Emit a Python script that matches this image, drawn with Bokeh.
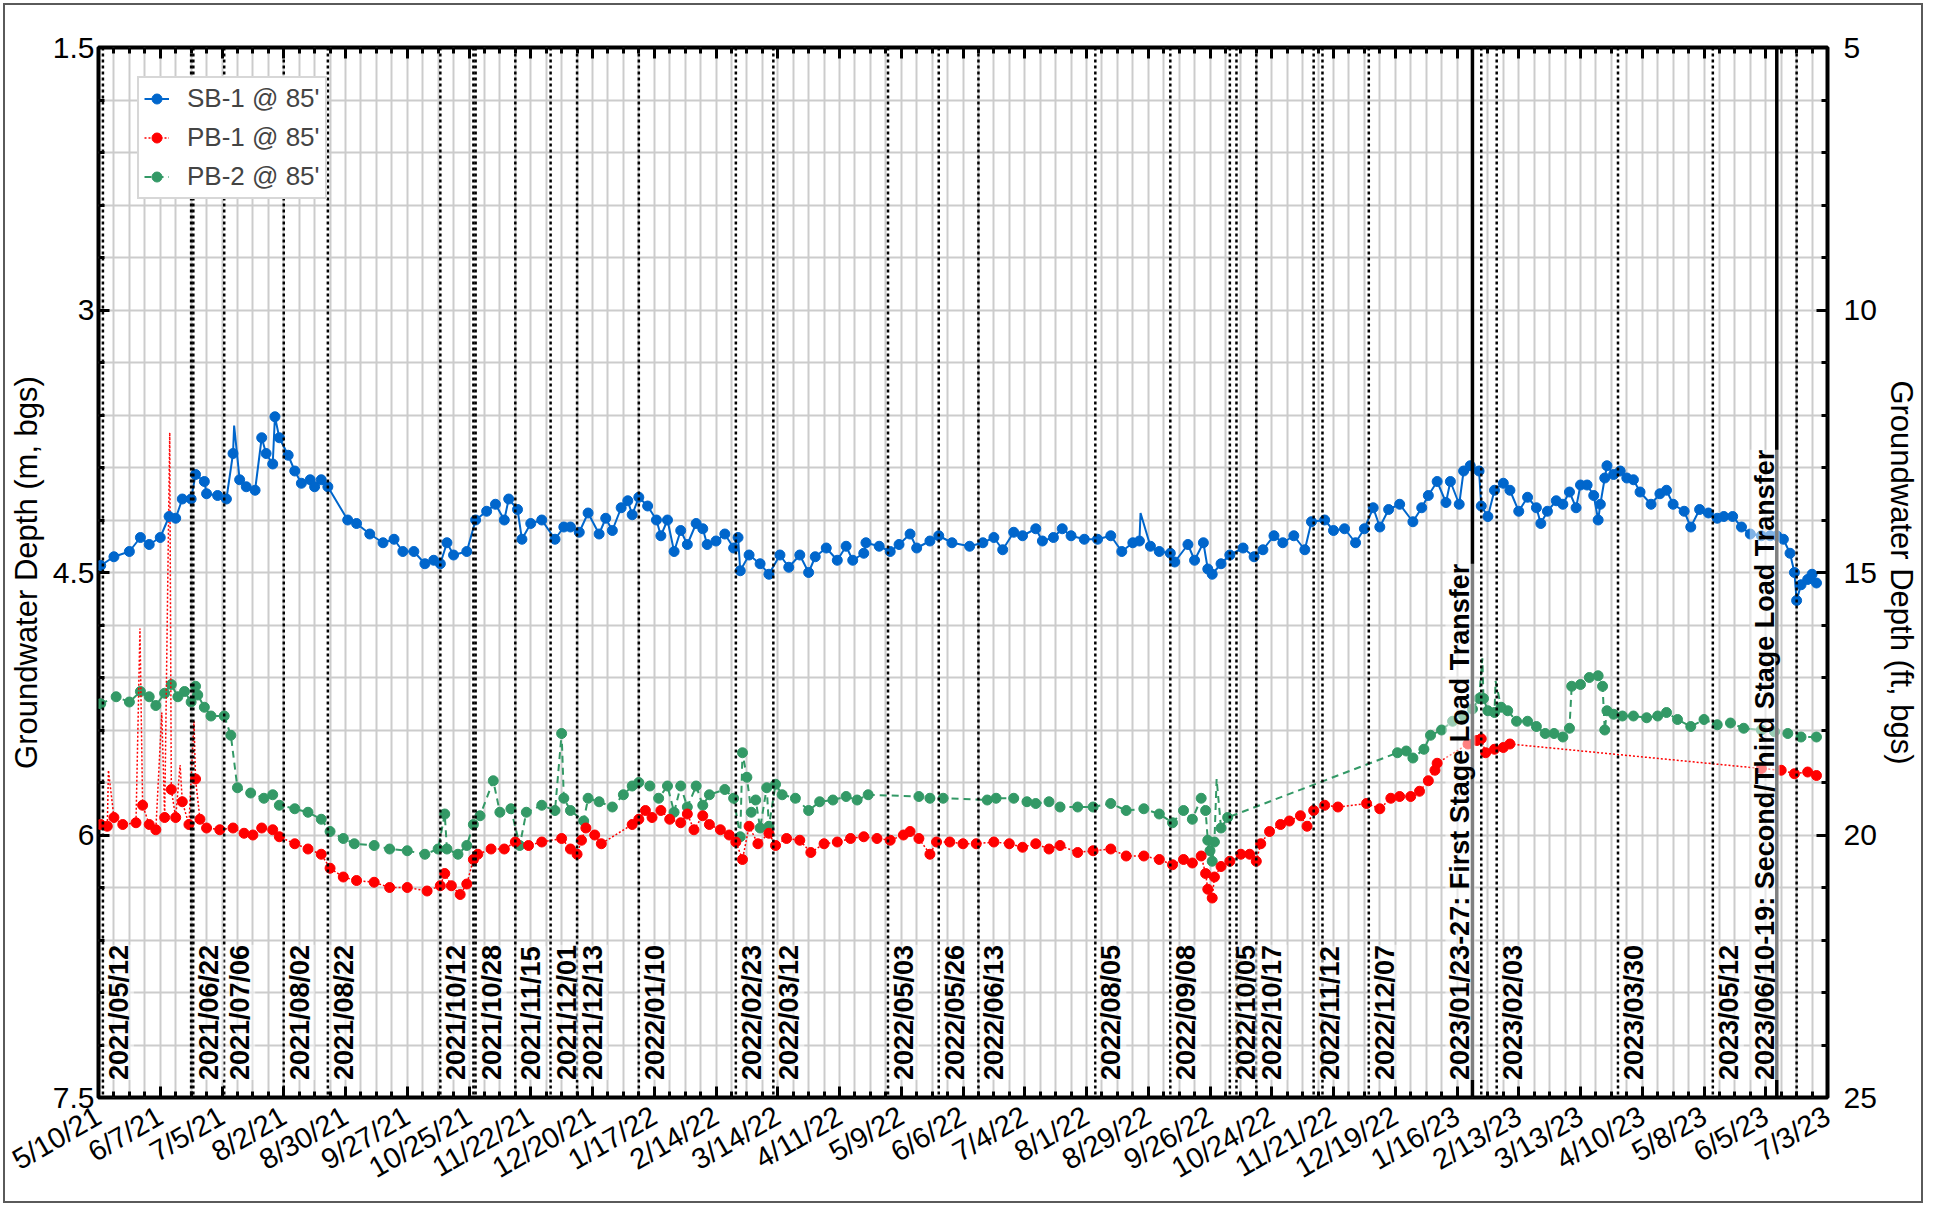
import numpy as np
import pandas as pd
from bokeh.plotting import figure
from bokeh.models import (Range1d, DatetimeAxis, LinearAxis, FixedTicker, Span, Label,
                          Legend, LegendItem, InlineStyleSheet, DatetimeTickFormatter)
from bokeh.embed import file_html
from bokeh.resources import INLINE

# ---------------- data ----------------
START = "2021-05-10"
END = "2023-07-03"

TICK_LABELS = ["5/10/21", "6/7/21", "7/5/21", "8/2/21", "8/30/21", "9/27/21", "10/25/21",
               "11/22/21", "12/20/21", "1/17/22", "2/14/22", "3/14/22", "4/11/22", "5/9/22",
               "6/6/22", "7/4/22", "8/1/22", "8/29/22", "9/26/22", "10/24/22", "11/21/22",
               "12/19/22", "1/16/23", "2/13/23", "3/13/23", "4/10/23", "5/8/23", "6/5/23", "7/3/23"]

Y_M_TICKS = [1.5, 3, 4.5, 6, 7.5]
Y_FT_TICKS = [5, 10, 15, 20, 25]

EVENT_LABELS = ["2021/05/12", "2021/06/22", "2021/07/06", "2021/08/02", "2021/08/22",
                "2021/10/12", "2021/10/28", "2021/11/15", "2021/12/01", "2021/12/13",
                "2022/01/10", "2022/02/23", "2022/03/12", "2022/05/03", "2022/05/26",
                "2022/06/13", "2022/08/05", "2022/09/08", "2022/10/05", "2022/10/17",
                "2022/11/12", "2022/12/07", "2023/02/03", "2023/03/30", "2023/05/12"]
EXTRA_EVENTS = ["2021/06/21", "2021/10/27", "2022/10/08", "2022/11/16", "2023/01/27", "2023/06/19"]
STAGE_DATES = ["2023/01/23", "2023/06/10"]
STAGE_LABELS = ["2023/01/23-27: First Stage Load Transfer",
                "2023/06/10-19: Second/Third Stage Load Transfer"]

# days after 2021-05-10, depth in m
SB1_DAY = [1, 7, 14, 19, 23, 28, 32, 35, 38, 42, 44, 48, 49, 54, 58, 61, 64, 67, 71, 74, 76, 79, 80,
           82, 86, 89, 92, 96, 98, 101, 104, 113, 117, 123, 129, 134, 138, 143, 148, 152, 155, 158,
           161, 167, 171, 176, 180, 184, 186, 190, 192, 196, 201, 207, 211, 214, 218, 222, 227, 230,
           233, 237, 240, 242, 245, 249, 253, 255, 258, 261, 264, 267, 271, 274, 276, 280, 284, 288,
           290, 291, 295, 300, 304, 309, 313, 318, 322, 325, 330, 335, 339, 342, 347, 348, 354, 359,
           363, 368, 371, 377, 381, 387, 395, 401, 406, 410, 415, 419, 425, 428, 433, 437, 441, 447,
           453, 459, 464, 469, 472, 477, 481, 486, 488, 494, 497, 501, 503, 505, 509, 513, 519, 524,
           528, 533, 537, 542, 547, 550, 556, 560, 565, 570, 574, 578, 581, 585, 590, 596, 600, 603,
           607, 611, 613, 617, 619, 622, 626, 627, 630, 633, 637, 640, 644, 648, 652, 654, 657, 661,
           664, 667, 670, 672, 675, 678, 680, 681, 683, 684, 687, 690, 693, 696, 699, 704, 708, 711,
           714, 719, 722, 726, 730, 734, 737, 741, 745, 749, 754, 758, 761, 764, 767, 769, 770, 772,
           775, 777, 779]
SB1_M = [4.46, 4.41, 4.38, 4.30, 4.34, 4.30, 4.18, 4.19, 4.08, 4.08, 3.94, 3.98, 4.05, 4.06, 4.08,
         3.82, 3.97, 4.01, 4.03, 3.73, 3.82, 3.88, 3.61, 3.73, 3.83, 3.92, 3.99, 3.97, 4.01, 3.97,
         4.01, 4.20, 4.22, 4.28, 4.33, 4.31, 4.38, 4.38, 4.45, 4.43, 4.45, 4.33, 4.40, 4.38, 4.20,
         4.15, 4.11, 4.20, 4.08, 4.14, 4.31, 4.22, 4.20, 4.31, 4.24, 4.24, 4.27, 4.16, 4.28, 4.19,
         4.26, 4.13, 4.09, 4.17, 4.07, 4.12, 4.20, 4.29, 4.20, 4.38, 4.26, 4.34, 4.22, 4.25, 4.34,
         4.32, 4.28, 4.36, 4.30, 4.49, 4.40, 4.45, 4.51, 4.40, 4.47, 4.40, 4.50, 4.41, 4.36, 4.43,
         4.35, 4.43, 4.39, 4.33, 4.35, 4.38, 4.34, 4.28, 4.36, 4.32, 4.29, 4.33, 4.35, 4.33, 4.30,
         4.37, 4.27, 4.29, 4.25, 4.32, 4.30, 4.25, 4.29, 4.31, 4.31, 4.29, 4.38, 4.33, 4.32, 4.35,
         4.38, 4.39, 4.44, 4.34, 4.43, 4.33, 4.48, 4.51, 4.45, 4.40, 4.36, 4.41, 4.37, 4.29, 4.33,
         4.29, 4.37, 4.21, 4.20, 4.26, 4.25, 4.33, 4.25, 4.13, 4.24, 4.14, 4.11, 4.21, 4.13, 4.06,
         3.98, 4.10, 3.98, 4.11, 3.92, 3.89, 3.92, 4.12, 4.18, 4.03, 3.99, 4.03, 4.15, 4.07, 4.13,
         4.22, 4.15, 4.09, 4.11, 4.04, 4.13, 4.00, 4.00, 4.06, 4.20, 4.11, 3.96, 3.89, 3.94, 3.92,
         3.96, 3.97, 4.04, 4.11, 4.05, 4.03, 4.11, 4.15, 4.24, 4.14, 4.16, 4.19, 4.18, 4.18, 4.24,
         4.28, 4.29, 4.29, 4.29, 4.31, 4.39, 4.50, 4.66, 4.57, 4.54, 4.51, 4.56]
SB1_SPIKE_DAY = [61.5, 472.5]
SB1_SPIKE_M = [3.66, 4.16]

PB1_DAY = [1, 4, 7, 11, 17, 20, 23, 26, 30, 33, 35, 38, 41, 44, 46, 49, 55, 61, 66, 70, 74, 79, 82,
           89, 95, 101, 105, 111, 117, 125, 132, 140, 149, 155, 157, 160, 164, 167, 170, 172, 178,
           184, 189, 195, 201, 210, 214, 217, 219, 221, 225, 228, 242, 245, 248, 251, 255, 259, 264,
           267, 270, 274, 277, 282, 286, 289, 292, 295, 299, 304, 307, 312, 318, 323, 329, 335, 341,
           347, 353, 359, 365, 368, 372, 377, 380, 386, 392, 398, 406, 413, 419, 425, 431, 436, 444,
           451, 459, 466, 474, 481, 487, 492, 496, 500, 502, 503, 505, 506, 509, 513, 518, 522, 525,
           527, 531, 536, 540, 545, 548, 551, 556, 562, 575, 581, 586, 590, 595, 599, 603, 606, 607,
           621, 625, 627, 629, 633, 637, 640, 754, 763, 769, 775, 779]
PB1_M = [5.94, 5.95, 5.90, 5.94, 5.93, 5.83, 5.94, 5.97, 5.90, 5.74, 5.90, 5.81, 5.94, 5.68, 5.91,
         5.96, 5.97, 5.96, 5.99, 6.00, 5.96, 5.97, 6.01, 6.05, 6.08, 6.11, 6.19, 6.24, 6.26, 6.27,
         6.30, 6.30, 6.32, 6.29, 6.22, 6.29, 6.34, 6.28, 6.14, 6.11, 6.08, 6.08, 6.04, 6.06, 6.04,
         6.02, 6.08, 6.11, 6.03, 5.96, 6.00, 6.05, 5.94, 5.91, 5.86, 5.90, 5.86, 5.91, 5.93, 5.88,
         5.97, 5.89, 5.94, 5.97, 6.00, 6.04, 6.14, 5.95, 6.05, 5.99, 6.06, 6.02, 6.03, 6.10, 6.05,
         6.04, 6.02, 6.01, 6.02, 6.03, 6.00, 5.98, 6.02, 6.11, 6.04, 6.04, 6.05, 6.05, 6.04, 6.05,
         6.07, 6.05, 6.08, 6.06, 6.10, 6.09, 6.08, 6.12, 6.12, 6.14, 6.17, 6.14, 6.16, 6.12, 6.22,
         6.31, 6.36, 6.24, 6.18, 6.15, 6.11, 6.11, 6.15, 6.05, 5.98, 5.94, 5.92, 5.89, 5.95, 5.86,
         5.83, 5.84, 5.82, 5.85, 5.79, 5.78, 5.78, 5.75, 5.69, 5.63, 5.59, 5.48, 5.46, 5.45, 5.53,
         5.51, 5.50, 5.48, 5.62, 5.63, 5.65, 5.64, 5.66]
PB1_SPIKE_DAY = [4.5, 18.8, 28.7, 32.3, 37, 43.3]
PB1_SPIKE_M = [5.63, 4.82, 5.30, 3.70, 5.60, 5.35]

PB2_DAY = [1, 8, 14, 19, 23, 26, 30, 33, 36, 39, 42, 44, 45, 48, 51, 57, 60, 63, 69, 75, 79, 82, 89,
           95, 101, 105, 111, 116, 125, 132, 140, 148, 154, 157, 158, 163, 167, 170, 173, 179, 182,
           187, 191, 194, 201, 207, 210, 211, 214, 220, 222, 227, 233, 238, 242, 245, 250, 254, 258,
           261, 264, 267, 271, 274, 277, 284, 288, 291, 292, 294, 296, 298, 300, 303, 304, 307, 310,
           316, 322, 327, 333, 339, 344, 349, 372, 377, 383, 403, 407, 415, 421, 425, 431, 436, 444,
           451, 459, 466, 474, 481, 487, 492, 496, 500, 502, 503, 504, 505, 506, 509, 512, 589, 593,
           596, 601, 604, 609, 614, 619, 623, 626, 628, 630, 633, 636, 639, 643, 648, 652, 656, 660,
           664, 667, 668, 672, 676, 680, 682, 683, 684, 687, 691, 696, 702, 707, 711, 716, 722, 728,
           734, 740, 746, 754, 760, 766, 772, 779]
PB2_M = [5.25, 5.21, 5.24, 5.18, 5.21, 5.26, 5.19, 5.14, 5.21, 5.18, 5.24, 5.15, 5.20, 5.27, 5.32,
         5.32, 5.43, 5.73, 5.76, 5.79, 5.77, 5.83, 5.85, 5.87, 5.91, 5.98, 6.02, 6.05, 6.06, 6.08,
         6.09, 6.11, 6.08, 5.88, 6.08, 6.11, 6.06, 5.94, 5.89, 5.69, 5.87, 5.85, 6.06, 5.87, 5.83,
         5.86, 5.42, 5.79, 5.86, 5.92, 5.79, 5.81, 5.84, 5.77, 5.72, 5.70, 5.72, 5.79, 5.72, 5.87,
         5.72, 5.84, 5.72, 5.83, 5.77, 5.74, 5.79, 6.01, 5.53, 5.67, 5.87, 5.80, 5.96, 5.73, 5.95,
         5.71, 5.77, 5.79, 5.86, 5.81, 5.80, 5.78, 5.80, 5.77, 5.78, 5.79, 5.79, 5.80, 5.79, 5.79,
         5.81, 5.82, 5.81, 5.84, 5.84, 5.84, 5.82, 5.86, 5.85, 5.88, 5.93, 5.86, 5.91, 5.79, 5.86,
         6.03, 6.09, 6.15, 6.04, 5.96, 5.90, 5.53, 5.52, 5.56, 5.51, 5.43, 5.40, 5.35, 5.32, 5.28,
         5.22, 5.22, 5.29, 5.30, 5.27, 5.29, 5.35, 5.35, 5.38, 5.42, 5.42, 5.44, 5.39, 5.15, 5.14,
         5.10, 5.09, 5.15, 5.40, 5.29, 5.31, 5.32, 5.32, 5.33, 5.32, 5.30, 5.34, 5.38, 5.34, 5.37,
         5.36, 5.39, 5.40, 5.41, 5.42, 5.44, 5.44]
PB2_SPIKE_DAY = [507, 627.5, 633.5]
PB2_SPIKE_M = [5.68, 4.99, 5.12]

# ---------------- helpers ----------------
EPOCH = pd.Timestamp("1970-01-01")
DAY_MS = 86400000.0


def ms(ts):
    return float((pd.Timestamp(ts) - EPOCH) / pd.Timedelta(milliseconds=1))


T0 = ms(START)
T1 = ms(END)


def day_x(days):
    return [T0 + d * DAY_MS for d in days]


def line_arrays(days, vals, sdays, svals):
    pairs = sorted(list(zip(days, vals)) + list(zip(sdays, svals)), key=lambda t: t[0])
    return day_x([q[0] for q in pairs]), [q[1] for q in pairs]


tick_ms = [ms(pd.to_datetime(t, format="%m/%d/%y")) for t in TICK_LABELS]
week_ms = [T0 + 7 * i * DAY_MS for i in range(int((T1 - T0) / DAY_MS / 7) + 1)]
m_grid = list(np.round(np.arange(1.5, 7.5001, 0.3), 2))

FONT = "Liberation Sans"
C_SB1, C_PB1, C_PB2 = "#0066CC", "#FF0000", "#339966"

SHIFT = 5                     # host margin, leaves room for the grey picture border
W, H = 1916, 1196
FRAME_W, FRAME_H = 1733, 1050
B_LEFT, B_TOP = 95 - SHIFT, 47 - SHIFT
p = figure(width=W, height=H, x_axis_type="datetime", output_backend="svg", toolbar_location=None,
           x_range=Range1d(T0, T1), y_range=Range1d(7.5, 1.5),
           min_border_left=B_LEFT, min_border_right=W - B_LEFT - FRAME_W,
           min_border_top=B_TOP, min_border_bottom=H - B_TOP - FRAME_H)
p.background_fill_color = "white"
p.border_fill_color = "white"
p.outline_line_color = "black"
p.outline_line_width = 4
p.stylesheets = [InlineStyleSheet(
    css=":host { margin: %dpx 0 0 %dpx; outline: 2px solid #5a5a5a; outline-offset: 0px; }" % (SHIFT, SHIFT))]

# grids
p.xgrid.ticker = FixedTicker(ticks=week_ms)
p.ygrid.ticker = FixedTicker(ticks=m_grid)
for g in (p.xgrid, p.ygrid):
    g.grid_line_color = "#cccccc"
    g.grid_line_width = 2


def style_ticks(ax, size="30px"):
    ax.axis_line_color = None
    ax.major_tick_in = 11
    ax.major_tick_out = 0
    ax.minor_tick_in = 6
    ax.minor_tick_out = 0
    ax.major_tick_line_width = 3
    ax.minor_tick_line_width = 3
    ax.major_tick_line_color = "black"
    ax.minor_tick_line_color = "black"
    ax.major_label_text_font = FONT
    ax.major_label_text_font_size = size
    ax.major_label_text_color = "black"
    ax.axis_label_text_font = FONT
    ax.axis_label_text_font_size = "31px"
    ax.axis_label_text_font_style = "normal"
    ax.axis_label_text_color = "black"


x_ticker = FixedTicker(ticks=tick_ms, minor_ticks=week_ms)

# bottom axis
xb = p.xaxis[0]
xb.ticker = x_ticker
xb.formatter = DatetimeTickFormatter(days="%-m/%-d/%y", months="%-m/%-d/%y", years="%-m/%-d/%y")
style_ticks(xb, "29px")
xb.major_label_orientation = np.pi / 6
xb.major_label_standoff = 16
xb.major_label_overrides = {int(t): s for t, s in zip(tick_ms, TICK_LABELS)}

# top axis: ticks only
xt = DatetimeAxis(ticker=x_ticker)
style_ticks(xt)
xt.major_label_text_font_size = "0px"
xt.major_label_text_color = None
xt.major_label_standoff = 0
p.add_layout(xt, "above")

# left axis
yl = p.yaxis[0]
yl.ticker = FixedTicker(ticks=Y_M_TICKS, minor_ticks=m_grid)
style_ticks(yl)
yl.axis_label = "Groundwater Depth (m, bgs)"
yl.major_label_standoff = 4
yl.axis_label_standoff = 6
yl.major_label_overrides = {1.5: "1.5", 3: "3", 4.5: "4.5", 6: "6", 7.5: "7.5"}

# right axis (feet)
p.extra_y_ranges = {"ft": Range1d(25, 5)}
yr = LinearAxis(y_range_name="ft", ticker=FixedTicker(ticks=Y_FT_TICKS, minor_ticks=list(range(5, 26))))
style_ticks(yr)
yr.axis_label = "Groundwater Depth (ft, bgs)"
yr.major_label_standoff = 16
yr.axis_label_standoff = 4
p.add_layout(yr, "right")

# series
renderers = {}
for name, days, vals, sd, sv, col, dash, lw in [
        ("PB-2 @ 85'", PB2_DAY, PB2_M, PB2_SPIKE_DAY, PB2_SPIKE_M, C_PB2, "7 5", 2),
        ("PB-1 @ 85'", PB1_DAY, PB1_M, PB1_SPIKE_DAY, PB1_SPIKE_M, C_PB1, "2 2", 1.5),
        ("SB-1 @ 85'", SB1_DAY, SB1_M, SB1_SPIKE_DAY, SB1_SPIKE_M, C_SB1, "solid", 2)]:
    lx, ly = line_arrays(days, vals, sd, sv)
    ln = p.line(lx, ly, line_color=col, line_width=lw, line_dash=dash)
    sc = p.scatter(day_x(days), vals, marker="circle", size=10, fill_color=col, line_color=col)
    renderers[name] = [ln, sc]

LEG_PAD, LEG_ROW, LEG_SP = 5, 29, 8
legend = Legend(items=[LegendItem(label=k, renderers=renderers[k])
                       for k in ["SB-1 @ 85'", "PB-1 @ 85'", "PB-2 @ 85'"]],
                location=(39, FRAME_H - 34 - 118))
legend.margin = 0
legend.padding = LEG_PAD
legend.spacing = LEG_SP
legend.label_height = LEG_ROW
legend.glyph_height = LEG_ROW
legend.glyph_width = 25
legend.label_standoff = 18
legend.label_text_font = FONT
legend.label_text_font_size = "26px"
legend.border_line_color = "#b0b0b0"
legend.border_line_width = 2
legend.background_fill_color = "white"
legend.background_fill_alpha = 1.0
p.add_layout(legend)

# event lines
for d in EVENT_LABELS + EXTRA_EVENTS:
    p.add_layout(Span(location=ms(pd.to_datetime(d, format="%Y/%m/%d")), dimension="height",
                      line_color="black", line_width=2.5, line_dash="3 3"))
for d in STAGE_DATES:
    p.add_layout(Span(location=ms(pd.to_datetime(d, format="%Y/%m/%d")), dimension="height",
                      line_color="black", line_width=3.5))

LABEL_Y = 7.40
for d in EVENT_LABELS:
    p.add_layout(Label(x=ms(pd.to_datetime(d, format="%Y/%m/%d")), y=LABEL_Y, text=d, angle=90,
                       angle_units="deg", text_align="left", text_baseline="top",
                       text_font=FONT, text_font_size="27px", text_font_style="bold",
                       text_color="black", x_offset=1,
                       background_fill_color="white", background_fill_alpha=0.5))
for d, t in zip(STAGE_DATES, STAGE_LABELS):
    p.add_layout(Label(x=ms(pd.to_datetime(d, format="%Y/%m/%d")), y=LABEL_Y, text=t, angle=90,
                       angle_units="deg", text_align="left", text_baseline="bottom",
                       text_font=FONT, text_font_size="27px", text_font_style="bold",
                       text_color="black", x_offset=3,
                       background_fill_color="white", background_fill_alpha=0.5))

open("out.html", "w").write(file_html(p, INLINE))
